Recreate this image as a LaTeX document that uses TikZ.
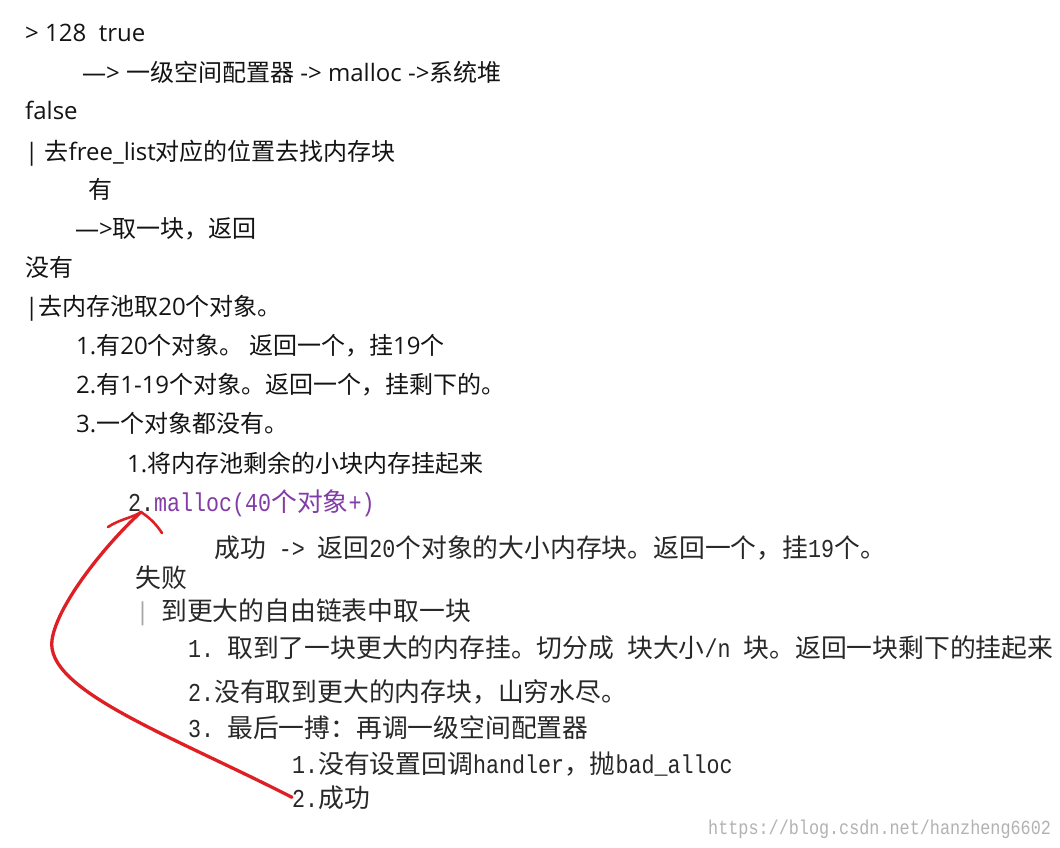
\documentclass[tikz,border=0pt]{standalone}
\usepackage{fontspec}
\newfontfamily\cjk{Noto Sans CJK SC}
\newfontfamily\lat{Open Sans}
\newfontfamily\mo[FakeStretch=0.84]{Liberation Mono}
\newcommand{\la}[1]{{\lat #1}}
\definecolor{arrowred}{RGB}{222,32,36}
\definecolor{mpurple}{RGB}{130,60,165}
\definecolor{lowtxt}{RGB}{40,40,40}
\begin{document}
\begin{tikzpicture}[x=1pt,y=-1pt,
  up/.style={anchor=base west,inner sep=0pt,font=\cjk\fontsize{24}{24}\selectfont,text=black!92},
  low/.style={anchor=base west,inner sep=0pt,font=\cjk\fontsize{25.8}{25.8}\selectfont,text=lowtxt},
  redline/.style={draw=arrowred,line width=3.3pt,line cap=round,line join=round}]
\fill[white] (0,0) rectangle (1060,847);
\path[use as bounding box] (0,0) rectangle (1060,847);
% upper part
\node[up] (l1) at (25,41) {\la{> 128\ \ true}};
\node[up] (l2) at (82,81) {\la{—> }一级空间配置器\la{ -> malloc ->}系统堆};
\node[up] (l3) at (25,119) {\la{false}};
\node[up] (l4) at (25,160) {\la{| }去\la{free\_list}对应的位置去找内存块};
\node[up] (l5) at (88,198) {有};
\node[up] (l6) at (75,237) {\la{—>}取一块，返回};
\node[up] (l7) at (25,276) {没有};
\node[up] (l8) at (25,315) {\la{|}去内存池取\la{20}个对象。};
\node[up] (l9) at (76,354) {\la{1.}有\la{20}个对象。 返回一个，挂\la{19}个};
\node[up] (l10) at (76,393) {\la{2.}有\la{1-19}个对象。返回一个，挂剩下的。};
\node[up] (l11) at (76,432) {\la{3.}一个对象都没有。};
\node[up] (l12) at (127,472) {\la{1.}将内存池剩余的小块内存挂起来};
\node[low] (l13) at (128,511) {{\mo 2.}\textcolor{mpurple}{{\mo malloc(40}个对象{\mo +)}}};
% lower part
\node[low] (l14) at (214,557) {成功{\mo\ ->\ }返回{\mo 20}个对象的大小内存块。返回一个，挂{\mo 19}个。};
\node[low] (l15) at (135,587) {失败};
\node[low,text=black!35] (bar) at (136,620) {{\mo |}};
\node[low] (l16) at (161,620) {到更大的自由链表中取一块};
\node[low] (l17) at (188,657) {{\mo 1.\ }取到了一块更大的内存挂。切分成{\mo\ }块大小{\mo /n\ }块。返回一块剩下的挂起来};
\node[low] (l18) at (188,701) {{\mo 2.}没有取到更大的内存块，山穷水尽。};
\node[low] (l19) at (188,737) {{\mo 3.\ }最后一搏：再调一级空间配置器};
\node[low] (l20) at (292,773) {{\mo 1.}没有设置回调{\mo handler}，抛{\mo bad\_alloc}};
\node[low] (l21) at (292,807) {{\mo 2.}成功};
\node[anchor=base west,inner sep=0pt,font=\mo\fontsize{20}{20}\selectfont,text=black!30] (wm) at (708,834) {https://blog.csdn.net/hanzheng6602};
% red hand-drawn arrow
\coordinate (tip) at (141,512);
\coordinate (bend) at (52,640);
\draw[redline] (l21.west) .. controls (170,735) and (45,690) .. (bend)
  .. controls (57,605) and (105,545) .. (tip);
\draw[redline,line width=2.6pt] (tip) .. controls (132,518) and (120,519) .. (108,527);
\draw[redline,line width=2.6pt] (tip) .. controls (150,518) and (156,524) .. (162,533);
\end{tikzpicture}
\end{document}
